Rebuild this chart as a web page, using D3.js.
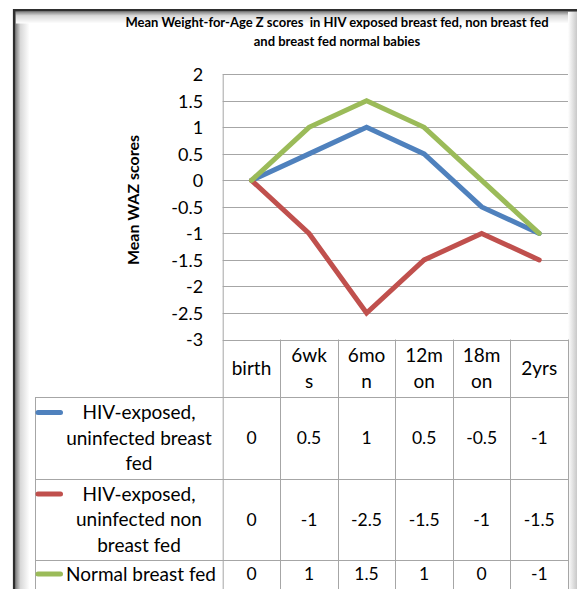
<!DOCTYPE html>
<html><head><meta charset="utf-8">
<script src="https://cdn.jsdelivr.net/npm/d3@7"></script>
<style>
body{margin:0;background:#fff}
svg{display:block}
text{font-family:Lato,"Open Sans",sans-serif;fill:#000}
</style>
</head><body>
<svg id="c" width="577" height="589"></svg>
<script>
// ---- data ----
const categories = ["birth","6wks","6mon","12mon","18mon","2yrs"];
const categoryLabelLines = [["birth"],["6wk","s"],["6mo","n"],["12m","on"],["18m","on"],["2yrs"]];
const seriesNames = ["HIV-exposed, uninfected breast fed","HIV-exposed, uninfected non breast fed","Normal breast fed"];
const seriesLabelLines = [["HIV-exposed,","uninfected breast","fed"],["HIV-exposed,","uninfected non","breast fed"],["Normal breast fed"]];
const breastFed = [0,0.5,1,0.5,-0.5,-1];
const nonBreastFed = [0,-1,-2.5,-1.5,-1,-1.5];
const normalBreastFed = [0,1,1.5,1,0,-1];
const valueLabels = [["0","0.5","1","0.5","-0.5","-1"],["0","-1","-2.5","-1.5","-1","-1.5"],["0","1","1.5","1","0","-1"]];
const yTicks = [2,1.5,1,0.5,0,-0.5,-1,-1.5,-2,-2.5,-3];
const titleLines = ["Mean Weight-for-Age Z scores  in HIV exposed breast fed, non breast fed","and breast fed normal babies"];
const yTitle = "Mean WAZ scores";
const colors = ["#4F81BD","#C0504D","#9BBB59"];

const series = [breastFed, nonBreastFed, normalBreastFed];

const svg = d3.select("#c");
const grid = "#a6a6a6";

// ---- frame with inner shadow ----
const defs = svg.append("defs");
const gl = defs.append("linearGradient").attr("id","gl").attr("x1",0).attr("x2",1).attr("y1",0).attr("y2",0);
gl.append("stop").attr("offset",0).attr("stop-color","#808080");
gl.append("stop").attr("offset",0.35).attr("stop-color","#d8d8d8");
gl.append("stop").attr("offset",1).attr("stop-color","#fff");
const gt = defs.append("linearGradient").attr("id","gt").attr("x1",0).attr("x2",0).attr("y1",0).attr("y2",1);
gt.append("stop").attr("offset",0).attr("stop-color","#808080");
gt.append("stop").attr("offset",0.35).attr("stop-color","#d8d8d8");
gt.append("stop").attr("offset",1).attr("stop-color","#fff");
const gr = defs.append("linearGradient").attr("id","gr").attr("x1",0).attr("x2",1).attr("y1",0).attr("y2",0);
gr.append("stop").attr("offset",0).attr("stop-color","#fff");
gr.append("stop").attr("offset",1).attr("stop-color","#c8c8c8");

svg.append("rect").attr("x",0).attr("y",0).attr("width",577).attr("height",589).attr("fill","#fff");
svg.append("rect").attr("x",15.5).attr("y",11.5).attr("width",14).attr("height",580).attr("fill","url(#gl)");
svg.append("rect").attr("x",15.5).attr("y",11.5).attr("width",570).attr("height",12).attr("fill","url(#gt)");
svg.append("rect").attr("x",568).attr("y",11.5).attr("width",9).attr("height",580).attr("fill","url(#gr)");
svg.append("path").attr("d","M14.2,600 V10.2 H580").attr("fill","none").attr("stroke","#2e2e2e").attr("stroke-width",2.6);

// ---- scales ----
const plotL = 222.7, plotR = 568, plotT = 74.3, plotB = 339.5;
const x = d3.scaleBand().domain(categories).range([plotL, plotR]);
const y = d3.scaleLinear().domain([-3, 2]).range([plotB, plotT]);
const cx = c => x(c) + x.bandwidth()/2;

// ---- title ----
svg.append("g").selectAll("text").data(titleLines).join("text")
  .attr("x",337).attr("y",(d,i)=>27+i*18.5).attr("text-anchor","middle")
  .style("white-space","pre")
  .attr("font-weight","bold").attr("font-size",13).text(d=>d);

// ---- gridlines ----
svg.append("g").selectAll("line").data(yTicks).join("line")
  .attr("x1",plotL).attr("x2",plotR).attr("y1",d=>Math.round(y(d))+0.5).attr("y2",d=>Math.round(y(d))+0.5)
  .attr("stroke",grid).attr("stroke-width",1);

// ---- y axis ----
const yAxis = d3.axisLeft(y).tickValues(yTicks).tickSize(0).tickPadding(0).tickFormat(d=>String(d));
const ya = svg.append("g").attr("transform",`translate(${plotL},0)`).call(yAxis);
ya.select(".domain").remove();
ya.selectAll("text").attr("x",-19.5).attr("font-size",18).attr("font-family","Lato,'Open Sans',sans-serif").attr("fill","#000").attr("dy","0.36em");
svg.append("line").attr("x1",plotL+0.5).attr("x2",plotL+0.5).attr("y1",plotT).attr("y2",589).attr("stroke",grid);

svg.append("text").attr("transform","translate(139,200) rotate(-90)").attr("text-anchor","middle")
  .attr("font-weight","bold").attr("font-size",16).text(yTitle);

// ---- lines ----
const line = d3.line().x((d,i)=>cx(categories[i])).y(d=>y(d));
svg.append("g").selectAll("path").data(series).join("path")
  .attr("d",d=>line(d)).attr("fill","none").attr("stroke",(d,i)=>colors[i])
  .attr("stroke-width",5).attr("stroke-linejoin","miter").attr("stroke-linecap","round");

// ---- data table ----
const tableL = 35, headB = 397;
const rowBounds = [[397,479],[479,560],[560,600]];
const tg = svg.append("g");
[headB, 479, 560].forEach(v=>{
  tg.append("line").attr("x1",tableL).attr("x2",plotR).attr("y1",v+0.5).attr("y2",v+0.5).attr("stroke",grid);
});
categories.forEach(c=>{
  const xx = Math.round(x(c)+x.bandwidth());
  tg.append("line").attr("x1",xx+0.5).attr("x2",xx+0.5).attr("y1",plotB).attr("y2",589).attr("stroke",grid);
});
tg.append("line").attr("x1",tableL+0.5).attr("x2",tableL+0.5).attr("y1",headB).attr("y2",589).attr("stroke",grid);

const fsWord = 19, fsNum = 17.5, lh = 25.5;
categories.forEach((c,i)=>{
  const lines = categoryLabelLines[i];
  const mid = (plotB+headB)/2;
  lines.forEach((t,k)=>{
    tg.append("text").attr("x",cx(c)).attr("y",mid+(k-(lines.length-1)/2)*lh).attr("dy","0.36em")
      .attr("text-anchor","middle").attr("font-size",fsWord).text(t);
  });
});
series.forEach((s,r)=>{
  const [t0,t1] = rowBounds[r];
  const mid = r<2 ? (t0+t1)/2 : 574;
  const lines = seriesLabelLines[r];
  lines.forEach((t,k)=>{
    tg.append("text").attr("x",r<2?139:141).attr("y",mid+(k-(lines.length-1)/2)*lh).attr("dy","0.36em")
      .attr("text-anchor","middle").attr("font-size",fsWord).text(t);
  });
  const ky = mid-(lines.length-1)/2*lh;
  tg.append("line").attr("x1",38).attr("x2",60.5).attr("y1",ky).attr("y2",ky)
    .attr("stroke",colors[r]).attr("stroke-width",5).attr("stroke-linecap","round");
  s.forEach((v,i)=>{
    tg.append("text").attr("x",cx(categories[i])).attr("y",mid).attr("dy","0.36em")
      .attr("text-anchor","middle").attr("font-size",fsNum).text(valueLabels[r][i]);
  });
});
</script>
</body></html>
